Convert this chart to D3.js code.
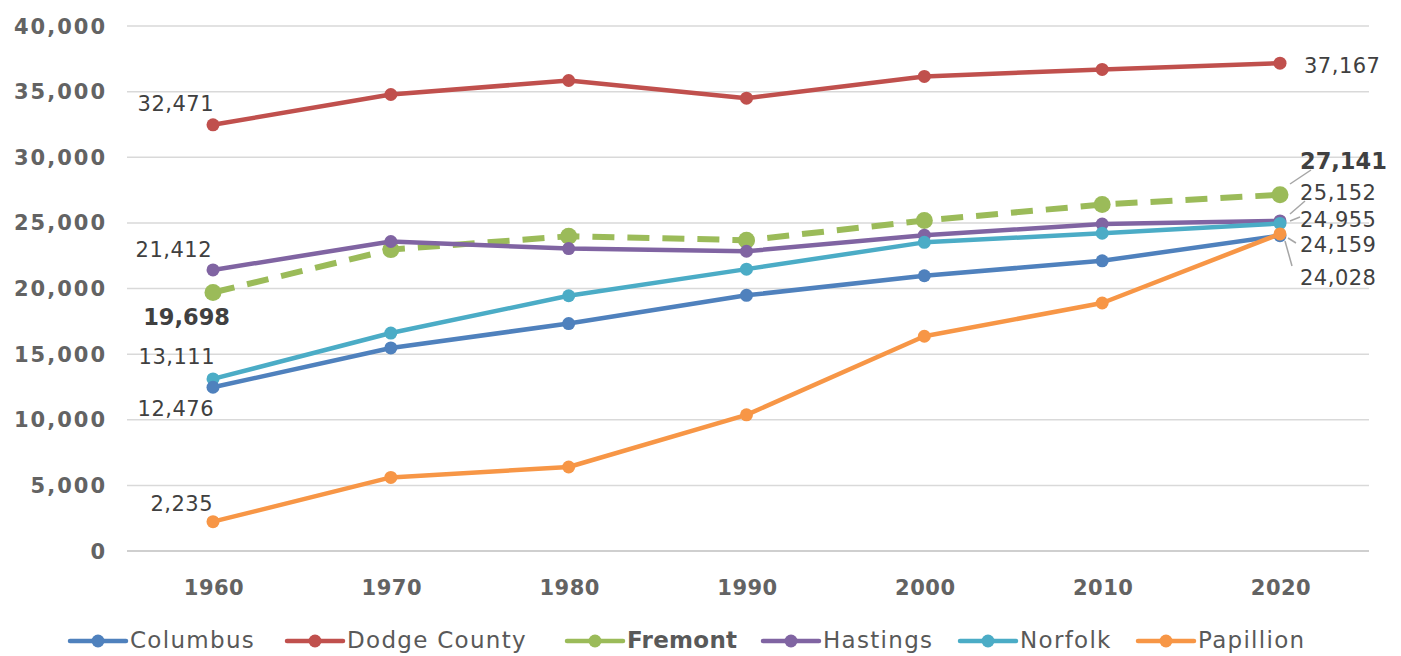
<!DOCTYPE html>
<html><head><meta charset="utf-8">
<script src="https://cdn.jsdelivr.net/npm/d3@7"></script>
<style>body{margin:0;background:#fff}svg{display:block}text{font-family:"DejaVu Sans",sans-serif}</style>
</head><body><svg id="c" width="1401" height="656"></svg>
<script>
const years = ["1960","1970","1980","1990","2000","2010","2020"];
const seriesNames = ["Columbus","Dodge County","Fremont","Hastings","Norfolk","Papillion"];
const columbus = [12476,15471,17328,19480,20971,22111,24028];
const dodgeCounty = [32471,34782,35847,34500,36160,36691,37167];
const fremont = [19698,22962,23979,23680,25174,26397,27141];
const hastings = [21412,23580,23045,22837,24064,24907,25152];
const norfolk = [13111,16607,19449,21476,23516,24210,24955];
const papillion = [2235,5606,6399,10372,16363,18894,24159];
const yTicks = [0,5000,10000,15000,20000,25000,30000,35000,40000];
const colors = ["#4f81bd","#c0504d","#9bbb59","#8064a2","#4bacc6","#f79646"];
const allValues = [columbus,dodgeCounty,fremont,hastings,norfolk,papillion];

const svg = d3.select("#c");
const x = d3.scalePoint().domain(years).range([213,1280]);
const y = d3.scaleLinear().domain([0,40000]).range([551,26]);
const fmt = d3.format(",");

// grid
svg.append("g").selectAll("line").data(yTicks).join("line")
  .attr("x1",127).attr("x2",1369).attr("y1",d=>y(d)).attr("y2",d=>y(d))
  .attr("stroke",d=>d===0?"#bfbfbf":"#d9d9d9").attr("stroke-width",1.5);
// y labels
svg.append("g").selectAll("text").data(yTicks).join("text")
  .attr("x",107).attr("y",d=>y(d)).attr("dy","0.36em").attr("text-anchor","end")
  .attr("font-size",21).attr("font-weight",700).attr("letter-spacing",2).attr("fill","#636363").text(d=>fmt(d));
// x labels
svg.append("g").selectAll("text").data(years).join("text")
  .attr("x",d=>x(d)+1).attr("y",587).attr("dy","0.36em").attr("text-anchor","middle")
  .attr("font-size",21).attr("font-weight",700).attr("letter-spacing",0.5).attr("fill","#636363").text(d=>d);

const line = d3.line().x((d,i)=>x(years[i])).y(d=>y(d));
const order = [2,1,3,4,0,5];
const g = svg.append("g");
order.forEach(k=>{
  const isF = k===2;
  g.append("path").attr("d",line(allValues[k])).attr("fill","none")
    .attr("stroke",colors[k]).attr("stroke-width",isF?6:4.5)
    .attr("stroke-dasharray",isF?"22,13":null).attr("stroke-linejoin","round");
  g.append("g").selectAll("circle").data(allValues[k]).join("circle")
    .attr("cx",(d,i)=>x(years[i])).attr("cy",d=>y(d)).attr("r",isF?8.5:6.5)
    .attr("fill",colors[k]);
});

// data labels
const lbl = svg.append("g").attr("fill","#404040");
const left = [
  {k:1, dx:1, ty:103, bold:false},
  {k:3, dx:-1, ty:249, bold:false},
  {k:2, dx:17, ty:317, bold:true},
  {k:4, dx:2, ty:356, bold:false},
  {k:0, dx:1, ty:408, bold:false},
  {k:5, dx:0, ty:503, bold:false}
];
left.forEach(o=>{
  lbl.append("text").attr("x",x(years[0])+o.dx).attr("y",o.ty).attr("dy","0.36em")
    .attr("text-anchor","end").attr("font-weight",o.bold?700:400).attr("font-size",o.bold?22.5:21)
    .attr("letter-spacing",o.bold?0:0.5)
    .text(fmt(allValues[o.k][0]));
});
const right = [
  {k:1, tx:1304, ty:65, bold:false, leader:null},
  {k:2, tx:1300, ty:161, bold:true, leader:[1290,184,1311,170]},
  {k:3, tx:1300, ty:192, bold:false, leader:[1290,214,1305,201]},
  {k:4, tx:1300, ty:219, bold:false, leader:[1290,221,1300,217]},
  {k:5, tx:1300, ty:244, bold:false, leader:[1288,238,1296,243]},
  {k:0, tx:1300, ty:277, bold:false, leader:[1285,241,1292,266]}
];
right.forEach(o=>{
  if(o.leader){
    lbl.append("line").attr("x1",o.leader[0]).attr("y1",o.leader[1]).attr("x2",o.leader[2]).attr("y2",o.leader[3])
      .attr("stroke","#a6a6a6").attr("stroke-width",1.5);
  }
  lbl.append("text").attr("x",o.tx).attr("y",o.ty).attr("dy","0.36em")
    .attr("font-weight",o.bold?700:400).attr("font-size",o.bold?22.5:21)
    .attr("letter-spacing",o.bold?0:0.5)
    .text(fmt(allValues[o.k][6]));
});

// legend
const legX = [70,287,567,763,960,1138];
const lg = svg.append("g");
seriesNames.forEach((n,k)=>{
  const x0 = legX[k];
  lg.append("line").attr("x1",x0).attr("x2",x0+56).attr("y1",641).attr("y2",641)
    .attr("stroke",colors[k]).attr("stroke-width",4.5).attr("stroke-linecap","round");
  lg.append("circle").attr("cx",x0+28).attr("cy",641).attr("r",6.5).attr("fill",colors[k]);
  lg.append("text").attr("x",x0+60).attr("y",640).attr("dy","0.36em")
    .attr("font-size",23).attr("font-weight",k===2?700:400).attr("letter-spacing",k===2?0.3:1.3)
    .attr("fill","#595959").text(n);
});
</script></body></html>
